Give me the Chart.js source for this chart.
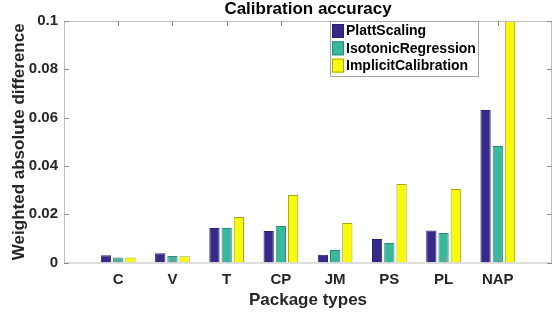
<!DOCTYPE html>
<html>
<head>
<meta charset="utf-8">
<script src="https://cdn.jsdelivr.net/npm/chart.js@4.4.1/dist/chart.umd.min.js"></script>
<style>
  html, body { margin: 0; padding: 0; background: #fff; }
  #wrap { width: 560px; height: 315px; position: relative; }
</style>
</head>
<body>
<div id="wrap"><canvas id="chart"></canvas></div>
<script>
// Data
const categories = ['C', 'V', 'T', 'CP', 'JM', 'PS', 'PL', 'NAP'];
const plattScaling = [0.0030, 0.0038, 0.0143, 0.0130, 0.0032, 0.0097, 0.0133, 0.0631];
const isotonicRegression = [0.0021, 0.0027, 0.0143, 0.0151, 0.0052, 0.0081, 0.0122, 0.0482];
const implicitCalibration = [0.0021, 0.0026, 0.0188, 0.0280, 0.0164, 0.0325, 0.0304, 0.1];
const yTicks = [0, 0.02, 0.04, 0.06, 0.08, 0.1];
const seriesNames = ['PlattScaling', 'IsotonicRegression', 'ImplicitCalibration'];
const seriesColors = ['#352a87', '#38b89d', '#f8fa0d'];
const seriesEdges = ['#2a2266', '#2a8a76', '#a8a80a'];
const chartTitle = 'Calibration accuracy';

const FONT = "'Liberation Sans', Arial, Helvetica, sans-serif";

// pad the category axis so the data sit at 1..8 on a 0..9 range
const xLabels = [''].concat(categories, ['']);
const pad = arr => [null].concat(arr, [null]);

// MATLAB style box with inward ticks, title over the axes, legend inside
const boxPlugin = {
  id: 'matlabBox',
  afterDatasetsDraw(chart) {
    const { ctx, chartArea: a, scales } = chart;
    ctx.save();
    ctx.strokeStyle = '#bcbcbc';
    ctx.lineWidth = 1;
    ctx.strokeRect(a.left + 0.5, a.top + 0.5, a.right - a.left - 1, a.bottom - a.top);
    ctx.beginPath();
    const len = 5;
    yTicks.forEach(v => {
      const y = Math.round(scales.y.getPixelForValue(v)) + 0.5;
      ctx.moveTo(a.left, y); ctx.lineTo(a.left + len, y);
      ctx.moveTo(a.right, y); ctx.lineTo(a.right - len, y);
    });
    categories.forEach((c, i) => {
      const x = Math.round(scales.x.getPixelForValue(i + 1)) + 0.5;
      ctx.moveTo(x, a.bottom); ctx.lineTo(x, a.bottom - len);
      ctx.moveTo(x, a.top); ctx.lineTo(x, a.top + len);
    });
    ctx.strokeStyle = '#8c8c8c';
    ctx.stroke();
    ctx.restore();
  },
  afterDraw(chart) {
    const { ctx, chartArea: a } = chart;
    ctx.save();
    // title centred on the axes, not the canvas
    ctx.font = 'bold 17px ' + FONT;
    ctx.fillStyle = '#000';
    ctx.textAlign = 'center';
    ctx.textBaseline = 'middle';
    ctx.fillText(chartTitle, (a.left + a.right) / 2, 9.5);

    // legend box in the upper middle of the axes
    ctx.textAlign = 'left';
    ctx.fillStyle = '#fff';
    ctx.fillRect(330, 21, 148, 55);
    ctx.strokeStyle = '#a6a6a6';
    ctx.lineWidth = 1;
    ctx.strokeRect(330.5, 21.5, 148, 55);
    ctx.font = 'bold 14px ' + FONT;
    seriesNames.forEach((name, i) => {
      const y = 24 + i * 17.3;
      ctx.fillStyle = seriesColors[i];
      ctx.fillRect(332, y, 12, 14);
      ctx.strokeStyle = seriesEdges[i];
      ctx.strokeRect(332.5, y + 0.5, 11, 13);
      ctx.fillStyle = '#000';
      ctx.fillText(name, 346, y + 7.5);
    });
    ctx.restore();
  }
};

const datasets = [plattScaling, isotonicRegression, implicitCalibration].map((vals, i) => ({
  label: seriesNames[i],
  data: pad(vals),
  backgroundColor: seriesColors[i],
  borderColor: seriesEdges[i],
  borderWidth: 1,
  categoryPercentage: 0.676,
  barPercentage: 0.84
}));

new Chart(document.getElementById('chart'), {
  type: 'bar',
  data: { labels: xLabels, datasets: datasets },
  options: {
    responsive: true,
    maintainAspectRatio: false,
    animation: false,
    layout: { padding: { left: 0, right: 1, top: 21, bottom: 0 } },
    plugins: {
      legend: { display: false },
      tooltip: { enabled: false },
      title: { display: false }
    },
    scales: {
      x: {
        offset: false,
        grid: { display: false, drawTicks: false },
        border: { display: false },
        ticks: {
          autoSkip: false,
          maxRotation: 0,
          padding: 8,
          color: '#262626',
          font: { family: FONT, size: 15, weight: 'bold' }
        },
        title: {
          display: true,
          text: 'Package types',
          color: '#262626',
          font: { family: FONT, size: 17, weight: 'bold' },
          padding: { top: 0, bottom: 4 }
        },
        afterFit: s => { s.height = 52.5; }
      },
      y: {
        min: 0,
        max: 0.1,
        grid: { display: false, drawTicks: false },
        border: { display: false },
        afterBuildTicks: s => { s.ticks = yTicks.map(v => ({ value: v })); },
        ticks: {
          padding: 6,
          color: '#262626',
          font: { family: FONT, size: 15, weight: 'bold' },
          callback: v => String(+v.toFixed(2))
        },
        title: {
          display: true,
          text: 'Weighted absolute difference',
          color: '#262626',
          font: { family: FONT, size: 17, weight: 'bold' },
          padding: { top: 9, bottom: 0 }
        },
        afterFit: s => { s.width = 64; }
      }
    }
  },
  plugins: [boxPlugin]
});
</script>
</body>
</html>
